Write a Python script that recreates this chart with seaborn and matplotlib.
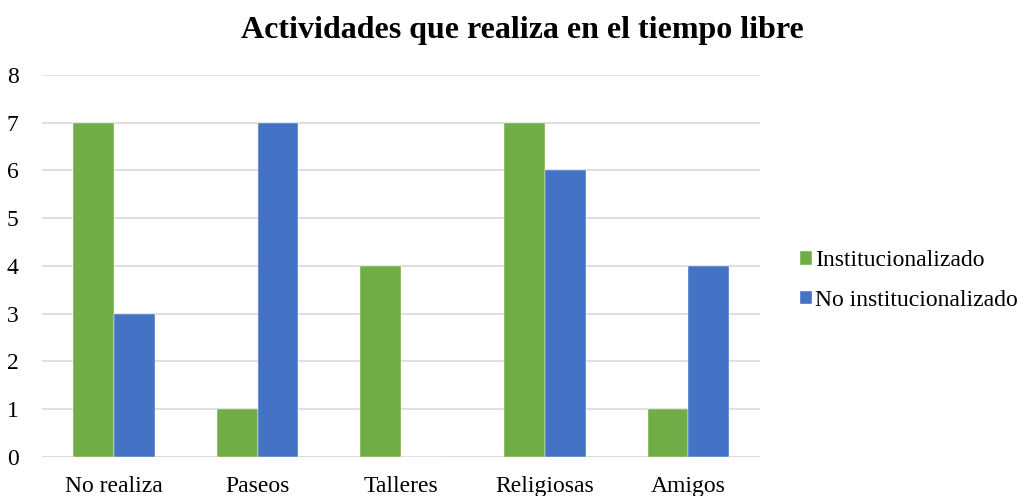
import matplotlib
matplotlib.use("Agg")
import matplotlib.pyplot as plt
import seaborn as sns
import pandas as pd
from matplotlib.patches import Patch

categories = ["No realiza", "Paseos", "Talleres", "Religiosas", "Amigos"]
institucionalizado = [7, 1, 4, 7, 1]
no_institucionalizado = [3, 7, 0, 6, 4]
series_names = ["Institucionalizado", "No institucionalizado"]
colors = ["#70AD47", "#4472C4"]

df = pd.DataFrame({
    "categoria": categories * 2,
    "valor": institucionalizado + no_institucionalizado,
    "grupo": [series_names[0]] * len(categories) + [series_names[1]] * len(categories),
})

sns.set_theme(style="white")
plt.rcParams["font.family"] = ["Liberation Serif", "DejaVu Serif"]
plt.rcParams["text.color"] = "black"

fig = plt.figure(figsize=(10.26, 4.96), dpi=100)
ax = fig.add_axes([0.041, 0.079, 0.700, 0.770])

sns.barplot(data=df, x="categoria", y="valor", hue="grupo",
            palette=colors, width=0.57, saturation=1, ax=ax,
            edgecolor="white", linewidth=0.3, legend=False)

ax.set_ylim(0, 8)
ax.set_xlim(-0.5, len(categories) - 0.5)
ax.set_yticks(range(0, 9))
ax.yaxis.grid(True, color="#D9D9D9", linewidth=1.2)
ax.set_axisbelow(True)
for s in ["top", "right", "left", "bottom"]:
    ax.spines[s].set_visible(False)
ax.axhline(0, color="#D9D9D9", linewidth=1.2, zorder=0)
ax.set_xlabel("")
ax.set_ylabel("")
ax.tick_params(axis="both", length=0, labelsize=17, colors="black")
ax.tick_params(axis="y", pad=17)
ax.tick_params(axis="x", pad=14)

fig.suptitle("Actividades que realiza en el tiempo libre", x=0.509, y=0.967,
             fontsize=23, fontweight="bold", color="black")

handles = [Patch(facecolor=c, label=n) for c, n in zip(colors, series_names)]
fig.legend(handles=handles, loc="center left", bbox_to_anchor=(0.758, 0.435),
           frameon=False, fontsize=17, handlelength=0.55, handleheight=0.55,
           handletextpad=0.15, labelspacing=0.8, labelcolor="black")

fig.savefig("out.png", dpi=100)
